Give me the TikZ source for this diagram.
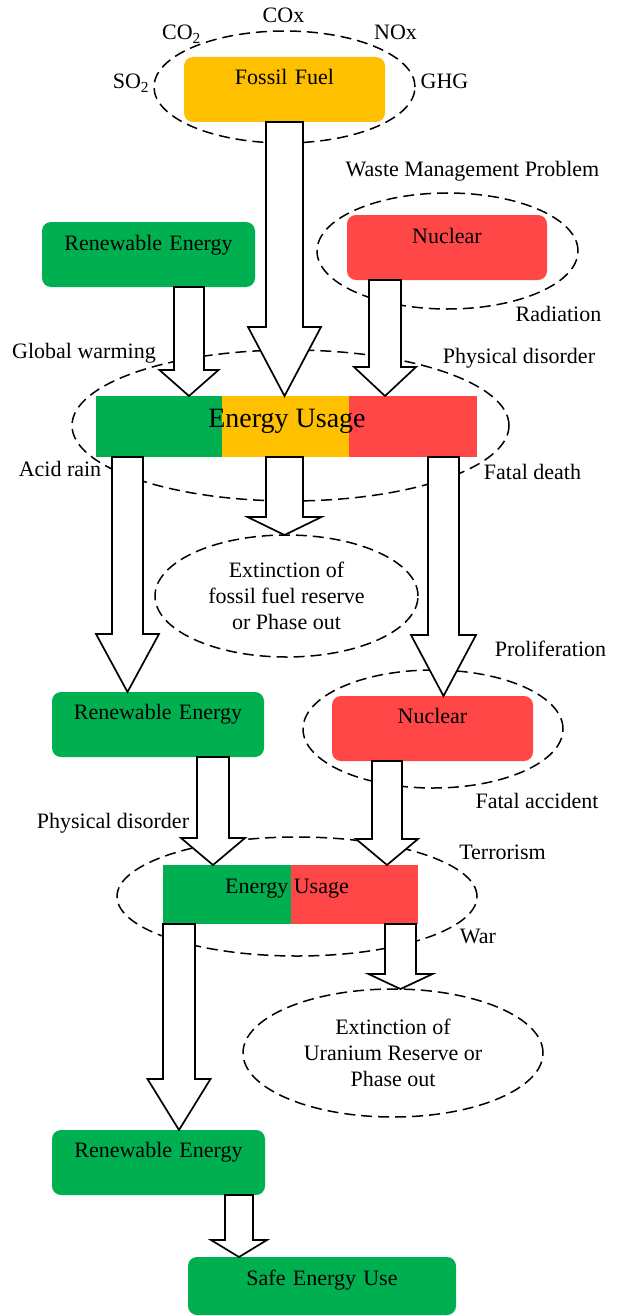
\documentclass[tikz,border=0pt]{standalone}
\usepackage{fontspec}
\setmainfont{Liberation Serif}
\usetikzlibrary{shapes.geometric,calc}
\definecolor{reGreen}{HTML}{00B050}
\definecolor{ffOrange}{HTML}{FFC000}
\definecolor{nuRed}{HTML}{FF4747}
\newcommand\lbl{\fontsize{22}{26}\selectfont}
\newcommand\biglbl{\fontsize{28}{32}\selectfont}
\newcommand\blockarr[6]{%
  \draw[blockarrow] let \p1=(#1.south), \p2=(#2.north) in
    ({(#3-#4)*1pt},\y1) -- ({(#3+#4)*1pt},\y1) -- ({(#3+#4)*1pt},{\y2+#6pt})
    -- ({(#3+#5)*1pt},{\y2+#6pt}) -- ({#3*1pt},\y2) -- ({(#3-#5)*1pt},{\y2+#6pt})
    -- ({(#3-#4)*1pt},{\y2+#6pt}) -- cycle;}
\tikzset{
  box/.style={rounded corners=9pt, inner sep=0pt, outer sep=0pt, align=center, anchor=north west, font=\lbl},
  barpart/.style={inner sep=0pt, outer sep=0pt, anchor=north west, minimum height=61pt},
  ell/.style={ellipse, draw, dash pattern=on 11pt off 6pt, line width=1.5pt, inner sep=0pt, outer sep=0pt, align=center, font=\lbl},
  lab/.style={anchor=base, inner sep=0pt, font=\lbl},
  blockarrow/.style={draw, fill=white, line width=1.7pt, line join=miter}
}
\begin{document}
\begin{tikzpicture}[x=1pt,y=-1pt]
\useasboundingbox (0,0) rectangle (618,1316);
% dashed ellipses
\node[ell, minimum width=261pt, minimum height=112pt] (e1) at (284.5,87) {};
\node[ell, minimum width=261pt, minimum height=116pt] (e2) at (447.5,251) {};
\node[ell, minimum width=437pt, minimum height=151pt] (e3) at (290.5,425.5) {};
\node[ell, minimum width=263pt, minimum height=122pt] (e4) at (286.5,596) {Extinction of\\fossil fuel reserve\\or Phase out};
\node[ell, minimum width=260pt, minimum height=118pt] (e5) at (433,729) {};
\node[ell, minimum width=360pt, minimum height=119pt] (e6) at (297,896.5) {};
\node[ell, minimum width=300pt, minimum height=128pt] (e7) at (393,1053) {Extinction of\\Uranium Reserve or\\Phase out};
% boxes
\node[box, fill=ffOrange, text width=201pt, text height=28pt, text depth=37pt] (ff) at (184,57) {Fossil Fuel};
\node[box, fill=reGreen, text width=213pt, text height=28pt, text depth=37pt] (re1) at (42,222) {Renewable Energy};
\node[box, fill=nuRed, text width=200pt, text height=28pt, text depth=37pt] (nuc1) at (347,215) {Nuclear};
\node[box, fill=reGreen, text width=212pt, text height=27pt, text depth=38pt] (re2) at (52,692) {Renewable Energy};
\node[box, fill=nuRed, text width=201pt, text height=27pt, text depth=38pt] (nuc2) at (332,696) {Nuclear};
\node[box, fill=reGreen, text width=213pt, text height=27pt, text depth=38pt] (re3) at (52,1130) {Renewable Energy};
\node[box, fill=reGreen, text width=268pt, text height=28pt, text depth=30pt] (safe) at (188,1257) {Safe Energy Use};
% energy usage bars
\node[barpart, fill=reGreen, minimum width=126pt] (b1g) at (96,396) {};
\node[barpart, fill=ffOrange, minimum width=127pt] (b1o) at (222,396) {};
\node[barpart, fill=nuRed, minimum width=128pt] (b1r) at (349,396) {};
\node[anchor=base, inner sep=0pt, font=\biglbl] (eu1) at (287,427) {Energy Usage};
\node[barpart, fill=reGreen, minimum width=128pt, minimum height=59pt] (b2g) at (163,865) {};
\node[barpart, fill=nuRed, minimum width=127pt, minimum height=59pt] (b2r) at (291,865) {};
\node[lab] (eu2) at (287,893) {Energy Usage};
% block arrows
\blockarr{ff}{b1o}{284.5}{18.5}{36.5}{69}
\blockarr{re1}{b1g}{189}{15}{29.5}{26}
\blockarr{nuc1}{b1r}{385}{16}{31}{29}
\blockarr{b1g}{re2}{127.5}{15.5}{31.5}{58}
\blockarr{b1o}{e4}{284.5}{18.5}{37}{18}
\blockarr{b1r}{nuc2}{443.5}{15.5}{32.5}{61}
\blockarr{re2}{b2g}{213}{16}{32}{27}
\blockarr{nuc2}{b2r}{387}{15}{31}{26}
\blockarr{b2g}{re3}{179}{16}{31.5}{51}
\blockarr{b2r}{e7}{400.5}{15.5}{32}{15}
\blockarr{re3}{safe}{239}{14}{28}{17}
% labels
\node[lab] (co2) at (181.5,40) {CO\textsubscript{2}};
\node[lab] (cox) at (283.5,23) {COx};
\node[lab] (nox) at (395.5,40) {NOx};
\node[lab] (so2) at (131,89) {SO\textsubscript{2}};
\node[lab] (ghg) at (444.5,89) {GHG};
\node[lab] (wmp) at (472.5,177) {Waste Management Problem};
\node[lab] (rad) at (558.5,321) {Radiation};
\node[lab] (gw) at (84,358) {Global warming};
\node[lab] (pd1) at (519,363) {Physical disorder};
\node[lab] (ar) at (60,476) {Acid rain};
\node[lab] (fd) at (532.5,479) {Fatal death};
\node[lab] (pro) at (550.5,656) {Proliferation};
\node[lab] (fa) at (537,808) {Fatal accident};
\node[lab] (pd2) at (113,828) {Physical disorder};
\node[lab] (ter) at (502.5,859) {Terrorism};
\node[lab] (war) at (478,943) {War};
\end{tikzpicture}
\end{document}
